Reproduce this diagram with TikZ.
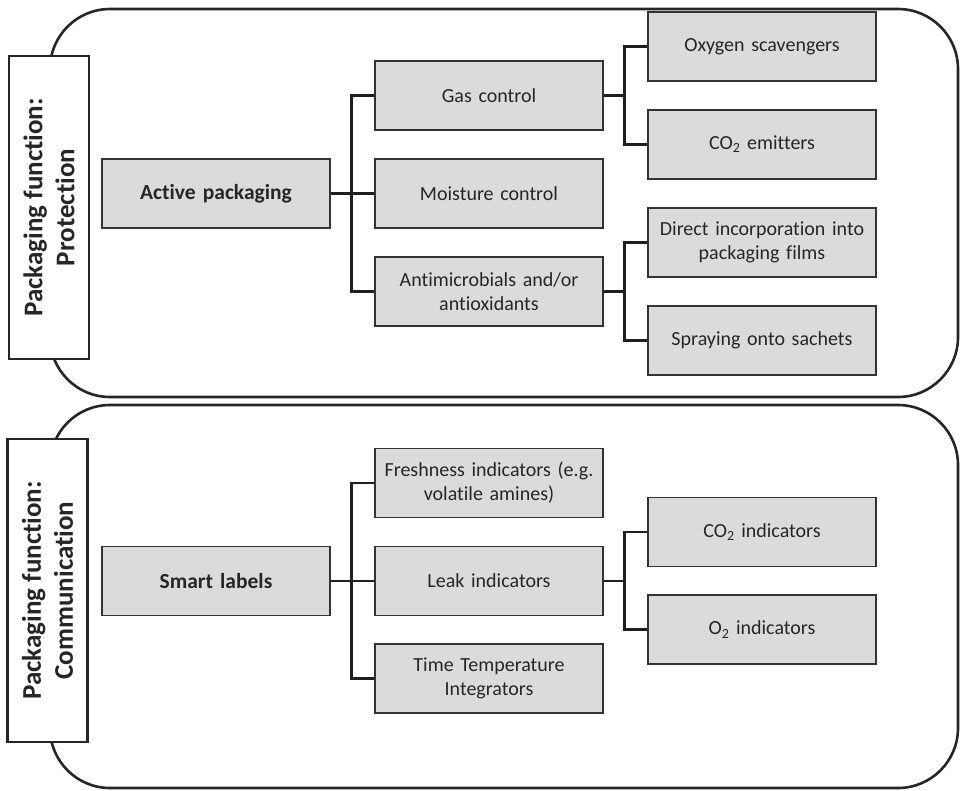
\documentclass[tikz,border=0pt]{standalone}
\usepackage{fontspec}
\setmainfont{Carlito}[Ligatures=NoCommon]
\begin{document}
\begin{tikzpicture}[x=1pt,y=-1pt,
  frame/.style={draw=black!85, line width=2.6pt, rounded corners=60pt},
  funcbox/.style={draw=black!85, fill=white, line width=2.6pt, minimum width=80pt, minimum height=303pt, inner sep=0pt},
  graybox/.style={draw=black!80, fill=black!14, line width=1.3pt, minimum width=228pt, minimum height=69pt, inner sep=2pt, align=center, text width=215pt, text=black!85, font=\fontsize{20}{24}\selectfont},
  mainbox/.style={graybox, font=\fontsize{21.5}{26}\selectfont\bfseries},
  conn/.style={draw=black!88, line width=2.6pt}
]
\useasboundingbox (0,0) rectangle (961,790);
% frames
\draw[frame] (50,9) rectangle (958,397);
\draw[frame] (50,405) rectangle (958,788);
% function labels
\node[funcbox] (f1) at (49,207.5) {};
\node[rotate=90, align=center, font=\fontsize{27}{32}\selectfont\bfseries, text=black!85] (f1t) at (f1.center) {Packaging function:\\Protection};
\node[funcbox] (f2) at (47.5,590.5) {};
\node[rotate=90, align=center, font=\fontsize{27}{32}\selectfont\bfseries, text=black!85] (f2t) at (f2.center) {Packaging function:\\Communication};
% top section
\node[mainbox] (act) at (216,193.5) {Active packaging};
\node[graybox] (gas) at (489,95.5) {Gas control};
\node[graybox] (mois) at (489,193.5) {Moisture control};
\node[graybox] (anti) at (489,291.5) {Antimicrobials and/or\\antioxidants};
\node[graybox] (oxy) at (762,46.5) {Oxygen scavengers};
\node[graybox] (co2e) at (762,144.5) {CO\textsubscript{2} emitters};
\node[graybox] (dir) at (762,242.5) {Direct incorporation into\\packaging films};
\node[graybox] (spr) at (762,340.5) {Spraying onto sachets};
% bottom section
\node[mainbox] (smart) at (216,581) {Smart labels};
\node[graybox] (fresh) at (489,483) {Freshness indicators (e.g.\\volatile amines)};
\node[graybox] (leak) at (489,581) {Leak indicators};
\node[graybox] (tti) at (489,678.5) {Time Temperature\\Integrators};
\node[graybox] (co2i) at (762,532) {CO\textsubscript{2} indicators};
\node[graybox] (o2i) at (762,629.5) {O\textsubscript{2} indicators};
% connectors top
\draw[conn] (act.east) -- (mois.west);
\draw[conn] (gas.west) -- ++(-23,0) |- (anti.west);
\draw[conn] (oxy.west) -- ++(-23,0) |- (co2e.west);
\draw[conn] (gas.east) -- ++(22,0);
\draw[conn] (dir.west) -- ++(-23,0) |- (spr.west);
\draw[conn] (anti.east) -- ++(22,0);
% connectors bottom
\draw[conn] (smart.east) -- (leak.west);
\draw[conn] (fresh.west) -- ++(-23,0) |- (tti.west);
\draw[conn] (co2i.west) -- ++(-23,0) |- (o2i.west);
\draw[conn] (leak.east) -- ++(22,0);
\end{tikzpicture}
\end{document}
